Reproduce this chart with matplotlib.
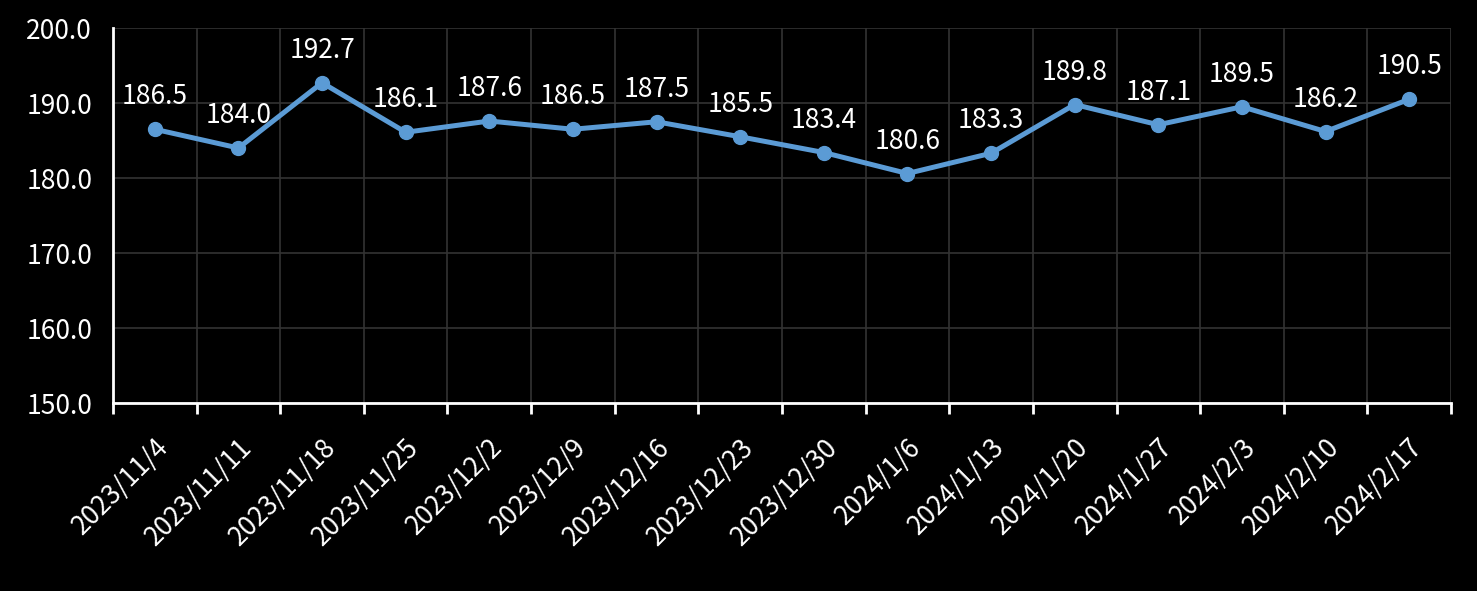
import matplotlib.pyplot as plt
import numpy as np

dates = ['2023/11/4', '2023/11/11', '2023/11/18', '2023/11/25', '2023/12/2', '2023/12/9',
         '2023/12/16', '2023/12/23', '2023/12/30', '2024/1/6', '2024/1/13', '2024/1/20',
         '2024/1/27', '2024/2/3', '2024/2/10', '2024/2/17']
values = [186.5, 184.0, 192.7, 186.1, 187.6, 186.5, 187.5, 185.5, 183.4, 180.6,
          183.3, 189.8, 187.1, 189.5, 186.2, 190.5]

plt.rcParams['font.family'] = ['Noto Sans CJK TC', 'DejaVu Sans']

fig = plt.figure(figsize=(14.77, 5.91), dpi=100, facecolor='black')
ax = fig.add_axes([0.0765, 0.3181, 0.9059, 0.6345], facecolor='black')

x = np.arange(len(dates))
ax.plot(x, values, color='#5B9BD5', linewidth=3.6, marker='o', markersize=10, zorder=3)

for xi, v in zip(x, values):
    ax.annotate(f'{v:.1f}', (xi, v), xytext=(0, 18), textcoords='offset points',
                ha='center', va='baseline', color='white', fontsize=19)

ax.set_xlim(-0.5, len(dates) - 0.5)
ax.set_ylim(150, 200)
ax.set_yticks(np.arange(150, 201, 10))
ax.set_yticklabels([f'{t:.1f}' for t in np.arange(150, 201, 10)])

ax.set_xticks(x)
ax.set_xticklabels(dates, rotation=45, ha='right', rotation_mode='anchor')
ax.set_xticks(np.arange(-0.5, len(dates), 1), minor=True)
ax.tick_params(axis='x', which='major', length=0, pad=22, colors='white', labelsize=19)
ax.tick_params(axis='x', which='minor', length=8, width=2, color='white', direction='out')
ax.tick_params(axis='y', length=0, colors='white', labelsize=19, pad=15)

ax.grid(axis='y', color='#333333', linewidth=1.2)
ax.grid(axis='x', which='minor', color='#333333', linewidth=1.2)
ax.set_axisbelow(True)

for s in ['top', 'right']:
    ax.spines[s].set_visible(False)
ax.spines['left'].set_color('white')
ax.spines['bottom'].set_color('white')
ax.spines['left'].set_linewidth(2)
ax.spines['bottom'].set_linewidth(2)

plt.savefig('out.png', facecolor='black')
